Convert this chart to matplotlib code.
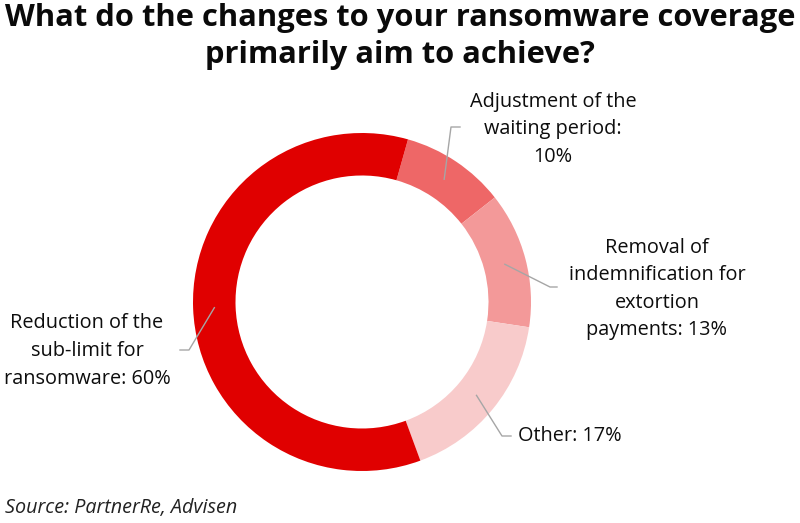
import matplotlib.pyplot as plt
import numpy as np

plt.rcParams['font.family'] = ['Open Sans', 'DejaVu Sans']

# данные диаграммы
labels = ["Adjustment of the\nwaiting period:\n10%",
          "Removal of\nindemnification for\nextortion\npayments: 13%",
          "Other: 17%",
          "Reduction of the\nsub-limit for\nransomware: 60%"]
values = [10, 13, 17, 60]
colors = ["#ee6767", "#f39999", "#f8cbcb", "#e00000"]

title = "What do the changes to your ransomware coverage\nprimarily aim to achieve?"
source = "Source: PartnerRe, Advisen"

fig = plt.figure(figsize=(8, 5.23), dpi=100)
ax = fig.add_axes([0, 0, 1, 1])

cx, cy, R = 362, 221, 169
start = 74.2
wedges, _ = ax.pie(values, colors=colors, startangle=start, counterclock=False,
                   center=(cx, cy), radius=R, frame=True,
                   wedgeprops=dict(width=42.5, linewidth=0))
ax.set_xlim(0, 800)
ax.set_ylim(0, 523)
ax.set_aspect('equal')
ax.axis('off')

# подписи: (излом линии, конец линии, позиция текста, выравнивание)
layout = [
    ((451, 396), (460, 396), (553, 394), 'center'),
    ((550, 236), (557, 236), (657, 234), 'center'),
    ((502, 87), (511, 87), (518, 87), 'left'),
    ((189, 173), (180, 173), (87, 172), 'center'),
]

rmid = R - 42.5 / 2
for w, lab, (elbow, end, tpos, ha) in zip(wedges, labels, layout):
    ang = np.deg2rad((w.theta1 + w.theta2) / 2)
    p = (cx + rmid * np.cos(ang), cy + rmid * np.sin(ang))
    ax.plot([p[0], elbow[0], end[0]], [p[1], elbow[1], end[1]],
            color="#a6a6a6", lw=1)
    ax.text(tpos[0], tpos[1], lab, ha=ha, va='center', fontsize=14.3,
            fontweight='medium', color="#0d0d0d", multialignment='center',
            linespacing=1.5)

fig.text(0.5, 0.994, title, ha='center', va='top', fontsize=22.2,
         fontweight='bold', color="#0a0a0a", linespacing=1.32)
fig.text(0.006, 0.028, source, ha='left', va='center', fontsize=14.2,
         style='italic', color="#222222")

fig.savefig("out.png", dpi=100)
